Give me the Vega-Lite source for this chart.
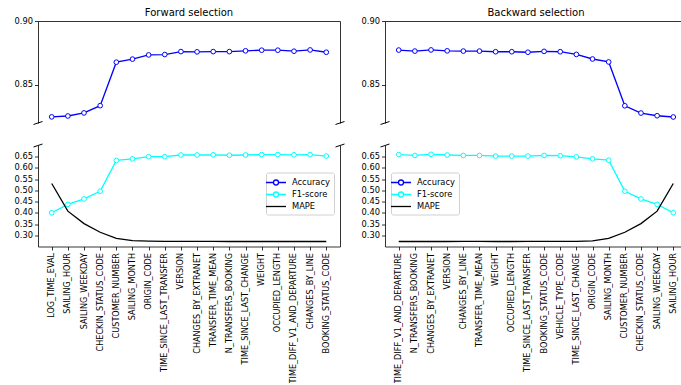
{
  "$schema": "https://vega.github.io/schema/vega-lite/v6.json",
  "background": "white",
  "padding": {"left": 14, "top": 8, "right": 0, "bottom": 0},
  "config": {
    "font": "DejaVu Sans",
    "view": {"stroke": null},
    "axis": {"labelFont": "DejaVu Sans", "labelFontSize": 8.3, "labelColor": "#000", "domainColor": "#000", "tickColor": "#000", "tickSize": 3.5, "labelPadding": 2, "grid": false, "title": null, "domainWidth": 0.8, "tickWidth": 0.8},
    "title": {"font": "DejaVu Sans", "fontSize": 10, "fontWeight": "normal", "color": "#000", "offset": -2},
    "legend": {"labelFont": "DejaVu Sans", "labelFontSize": 8.3, "labelColor": "#000"}
  },
  "datasets": {
    "fwd": [
      {"feature": "LOG_TIME_EVAL", "order": 1, "Accuracy": 0.8248, "F1-score": 0.401, "MAPE": 0.530},
      {"feature": "SAILING_HOUR", "order": 2, "Accuracy": 0.8255, "F1-score": 0.438, "MAPE": 0.408},
      {"feature": "SAILING_WEEKDAY", "order": 3, "Accuracy": 0.8279, "F1-score": 0.462, "MAPE": 0.353},
      {"feature": "CHECKIN_STATUS_CODE", "order": 4, "Accuracy": 0.8336, "F1-score": 0.496, "MAPE": 0.315},
      {"feature": "CUSTOMER_NUMBER", "order": 5, "Accuracy": 0.8677, "F1-score": 0.632, "MAPE": 0.288},
      {"feature": "SAILING_MONTH", "order": 6, "Accuracy": 0.8701, "F1-score": 0.639, "MAPE": 0.278},
      {"feature": "ORIGIN_CODE", "order": 7, "Accuracy": 0.8734, "F1-score": 0.6485, "MAPE": 0.276},
      {"feature": "TIME_SINCE_LAST_TRANSFER", "order": 8, "Accuracy": 0.8737, "F1-score": 0.6485, "MAPE": 0.275},
      {"feature": "VERSION", "order": 9, "Accuracy": 0.8760, "F1-score": 0.656, "MAPE": 0.275},
      {"feature": "CHANGES_BY_EXTRANET", "order": 10, "Accuracy": 0.8758, "F1-score": 0.656, "MAPE": 0.275},
      {"feature": "TRANSFER_TIME_MEAN", "order": 11, "Accuracy": 0.8760, "F1-score": 0.657, "MAPE": 0.275},
      {"feature": "N_TRANSFERS_BOOKING", "order": 12, "Accuracy": 0.8760, "F1-score": 0.655, "MAPE": 0.274},
      {"feature": "TIME_SINCE_LAST_CHANGE", "order": 13, "Accuracy": 0.8766, "F1-score": 0.656, "MAPE": 0.274},
      {"feature": "WEIGHT", "order": 14, "Accuracy": 0.8771, "F1-score": 0.658, "MAPE": 0.274},
      {"feature": "OCCUPIED_LENGTH", "order": 15, "Accuracy": 0.8771, "F1-score": 0.658, "MAPE": 0.274},
      {"feature": "TIME_DIFF_V1_AND_DEPARTURE", "order": 16, "Accuracy": 0.8763, "F1-score": 0.657, "MAPE": 0.274},
      {"feature": "CHANGES_BY_LINE", "order": 17, "Accuracy": 0.8773, "F1-score": 0.658, "MAPE": 0.274},
      {"feature": "BOOKING_STATUS_CODE", "order": 18, "Accuracy": 0.8755, "F1-score": 0.6515, "MAPE": 0.274}
    ],
    "bwd": [
      {"feature": "TIME_DIFF_V1_AND_DEPARTURE", "order": 1, "Accuracy": 0.8772, "F1-score": 0.658, "MAPE": 0.274},
      {"feature": "N_TRANSFERS_BOOKING", "order": 2, "Accuracy": 0.8764, "F1-score": 0.654, "MAPE": 0.274},
      {"feature": "CHANGES_BY_EXTRANET", "order": 3, "Accuracy": 0.8773, "F1-score": 0.659, "MAPE": 0.274},
      {"feature": "VERSION", "order": 4, "Accuracy": 0.8766, "F1-score": 0.656, "MAPE": 0.274},
      {"feature": "CHANGES_BY_LINE", "order": 5, "Accuracy": 0.8764, "F1-score": 0.654, "MAPE": 0.275},
      {"feature": "TRANSFER_TIME_MEAN", "order": 6, "Accuracy": 0.8764, "F1-score": 0.654, "MAPE": 0.275},
      {"feature": "WEIGHT", "order": 7, "Accuracy": 0.8759, "F1-score": 0.6515, "MAPE": 0.274},
      {"feature": "OCCUPIED_LENGTH", "order": 8, "Accuracy": 0.8759, "F1-score": 0.6515, "MAPE": 0.274},
      {"feature": "TIME_SINCE_LAST_TRANSFER", "order": 9, "Accuracy": 0.8755, "F1-score": 0.6515, "MAPE": 0.275},
      {"feature": "BOOKING_STATUS_CODE", "order": 10, "Accuracy": 0.8762, "F1-score": 0.654, "MAPE": 0.275},
      {"feature": "VEHICLE_TYPE_CODE", "order": 11, "Accuracy": 0.8759, "F1-score": 0.653, "MAPE": 0.275},
      {"feature": "TIME_SINCE_LAST_CHANGE", "order": 12, "Accuracy": 0.8738, "F1-score": 0.648, "MAPE": 0.275},
      {"feature": "ORIGIN_CODE", "order": 13, "Accuracy": 0.8702, "F1-score": 0.639, "MAPE": 0.277},
      {"feature": "SAILING_MONTH", "order": 14, "Accuracy": 0.8679, "F1-score": 0.633, "MAPE": 0.288},
      {"feature": "CUSTOMER_NUMBER", "order": 15, "Accuracy": 0.8335, "F1-score": 0.496, "MAPE": 0.315},
      {"feature": "CHECKIN_STATUS_CODE", "order": 16, "Accuracy": 0.8278, "F1-score": 0.462, "MAPE": 0.353},
      {"feature": "SAILING_WEEKDAY", "order": 17, "Accuracy": 0.8257, "F1-score": 0.438, "MAPE": 0.408},
      {"feature": "SAILING_HOUR", "order": 18, "Accuracy": 0.8247, "F1-score": 0.401, "MAPE": 0.530}
    ]
  },
  "spacing": 14,
  "resolve": {"scale": {"x": "independent", "y": "independent", "color": "independent"}, "legend": {"color": "independent"}},
  "hconcat": [
    {
      "spacing": 14.5,
      "resolve": {"scale": {"x": "independent", "y": "independent", "color": "independent"}, "legend": {"color": "independent"}},
      "vconcat": [
        {
          "title": "Forward selection",
          "width": 302, "height": 102,
          "layer": [
            {"data": {"name": "fwd"},
             "mark": {"type": "line", "color": "#0000ff", "strokeWidth": 1.3},
             "encoding": {
               "x": {"field": "feature", "type": "nominal", "sort": {"field": "order", "op": "min"}, "scale": {"type": "point", "padding": 0.85}, "axis": {"orient": "top", "labels": false, "ticks": false, "minExtent": 0, "maxExtent": 0}},
               "y": {"field": "Accuracy", "type": "quantitative", "scale": {"domain": [0.82, 0.9], "nice": false, "zero": false}, "axis": {"values": [0.85, 0.9], "format": ".2f"}}
             }},
            {"data": {"name": "fwd"},
             "mark": {"type": "point", "shape": "circle", "filled": true, "fill": "white", "stroke": "#0000ff", "strokeWidth": 1, "size": 22, "opacity": 1},
             "encoding": {
               "x": {"field": "feature", "type": "nominal", "sort": {"field": "order", "op": "min"}, "scale": {"type": "point", "padding": 0.85}, "axis": null},
               "y": {"field": "Accuracy", "type": "quantitative", "scale": {"domain": [0.82, 0.9], "nice": false, "zero": false}, "axis": {"orient": "right", "labels": false, "ticks": false, "minExtent": 0, "maxExtent": 0}}
             }},
            {"data": {"values": [{"bx": 0}, {"bx": 1}]},
             "mark": {"type": "point", "shape": "M-1,0.33L1,-0.33", "filled": false, "stroke": "#000", "strokeWidth": 1, "size": 81, "opacity": 1},
             "encoding": {
               "x": {"field": "bx", "type": "quantitative", "scale": {"domain": [0, 1], "nice": false, "zero": false}, "axis": null},
               "y": {"datum": 0.82, "type": "quantitative", "axis": null}
             }}
          ],
          "resolve": {"scale": {"x": "independent"}, "axis": {"x": "independent", "y": "independent"}}
        },
        {
          "width": 302, "height": 101,
          "layer": [
            {"data": {"name": "fwd"},
             "transform": [{"fold": ["F1-score", "MAPE"], "as": ["metric", "value"]}],
             "mark": {"type": "line", "strokeWidth": 1.3},
             "encoding": {
               "x": {"field": "feature", "type": "nominal", "sort": {"field": "order", "op": "min"}, "scale": {"type": "point", "padding": 0.85}, "axis": {"labelAngle": -90, "labelOverlap": false, "labelPadding": 2.5, "labelFontSize": 8.15}},
               "y": {"field": "value", "type": "quantitative", "scale": {"domain": [0.252, 0.698], "nice": false, "zero": false}, "axis": {"values": [0.3, 0.35, 0.4, 0.45, 0.5, 0.55, 0.6, 0.65], "format": ".2f"}},
               "color": {"field": "metric", "type": "nominal",
                 "scale": {"domain": ["Accuracy", "F1-score", "MAPE"], "range": ["#0000ff", "#00ffff", "#000000"]},
                 "legend": {"title": null, "orient": "none", "legendX": 228, "legendY": 27, "symbolSize": 100, "symbolStrokeWidth": 1.3, "symbolFillColor": "white", "labelOffset": 10, "rowPadding": 0, "padding": 4, "strokeColor": "#d0d0d0", "fillColor": "white", "cornerRadius": 2,
                   "encode": {"symbols": {"update": {"shape": {"signal": "datum.value === 'MAPE' ? 'M-2,0H2' : 'M-2,0H-0.5M0.5,0H2M-0.5,0A0.5,0.5,0,1,0,0.5,0A0.5,0.5,0,1,0,-0.5,0'"}, "fill": {"value": "white"}}}}}
               }
             }},
            {"data": {"name": "fwd"},
             "mark": {"type": "point", "shape": "circle", "filled": true, "fill": "white", "stroke": "#00ffff", "strokeWidth": 1, "size": 22, "opacity": 1},
             "encoding": {
               "x": {"field": "feature", "type": "nominal", "sort": {"field": "order", "op": "min"}, "scale": {"type": "point", "padding": 0.85}, "axis": null},
               "y": {"field": "F1-score", "type": "quantitative", "scale": {"domain": [0.252, 0.698], "nice": false, "zero": false}, "axis": {"orient": "right", "labels": false, "ticks": false, "minExtent": 0, "maxExtent": 0}}
             }},
            {"data": {"values": [{"bx": 0}, {"bx": 1}]},
             "mark": {"type": "point", "shape": "M-1,0.33L1,-0.33", "filled": false, "stroke": "#000", "strokeWidth": 1, "size": 81, "opacity": 1},
             "encoding": {
               "x": {"field": "bx", "type": "quantitative", "scale": {"domain": [0, 1], "nice": false, "zero": false}, "axis": null},
               "y": {"datum": 0.698, "type": "quantitative", "axis": null}
             }}
          ],
          "resolve": {"scale": {"x": "independent"}, "axis": {"x": "independent", "y": "independent"}}
        }
      ]
    },
    {
      "spacing": 14.5,
      "resolve": {"scale": {"x": "independent", "y": "independent", "color": "independent"}, "legend": {"color": "independent"}},
      "vconcat": [
        {
          "title": "Backward selection",
          "width": 302, "height": 102,
          "layer": [
            {"data": {"name": "bwd"},
             "mark": {"type": "line", "color": "#0000ff", "strokeWidth": 1.3},
             "encoding": {
               "x": {"field": "feature", "type": "nominal", "sort": {"field": "order", "op": "min"}, "scale": {"type": "point", "padding": 0.85}, "axis": {"orient": "top", "labels": false, "ticks": false, "minExtent": 0, "maxExtent": 0}},
               "y": {"field": "Accuracy", "type": "quantitative", "scale": {"domain": [0.82, 0.9], "nice": false, "zero": false}, "axis": {"values": [0.85, 0.9], "format": ".2f"}}
             }},
            {"data": {"name": "bwd"},
             "mark": {"type": "point", "shape": "circle", "filled": true, "fill": "white", "stroke": "#0000ff", "strokeWidth": 1, "size": 22, "opacity": 1},
             "encoding": {
               "x": {"field": "feature", "type": "nominal", "sort": {"field": "order", "op": "min"}, "scale": {"type": "point", "padding": 0.85}, "axis": null},
               "y": {"field": "Accuracy", "type": "quantitative", "scale": {"domain": [0.82, 0.9], "nice": false, "zero": false}, "axis": {"orient": "right", "labels": false, "ticks": false, "minExtent": 0, "maxExtent": 0}}
             }},
            {"data": {"values": [{"bx": 0}, {"bx": 1}]},
             "mark": {"type": "point", "shape": "M-1,0.33L1,-0.33", "filled": false, "stroke": "#000", "strokeWidth": 1, "size": 81, "opacity": 1},
             "encoding": {
               "x": {"field": "bx", "type": "quantitative", "scale": {"domain": [0, 1], "nice": false, "zero": false}, "axis": null},
               "y": {"datum": 0.82, "type": "quantitative", "axis": null}
             }}
          ],
          "resolve": {"scale": {"x": "independent"}, "axis": {"x": "independent", "y": "independent"}}
        },
        {
          "width": 302, "height": 101,
          "layer": [
            {"data": {"name": "bwd"},
             "transform": [{"fold": ["F1-score", "MAPE"], "as": ["metric", "value"]}],
             "mark": {"type": "line", "strokeWidth": 1.3},
             "encoding": {
               "x": {"field": "feature", "type": "nominal", "sort": {"field": "order", "op": "min"}, "scale": {"type": "point", "padding": 0.85}, "axis": {"labelAngle": -90, "labelOverlap": false, "labelPadding": 2.5, "labelFontSize": 8.15}},
               "y": {"field": "value", "type": "quantitative", "scale": {"domain": [0.252, 0.698], "nice": false, "zero": false}, "axis": {"values": [0.3, 0.35, 0.4, 0.45, 0.5, 0.55, 0.6, 0.65], "format": ".2f"}},
               "color": {"field": "metric", "type": "nominal",
                 "scale": {"domain": ["Accuracy", "F1-score", "MAPE"], "range": ["#0000ff", "#00ffff", "#000000"]},
                 "legend": {"title": null, "orient": "none", "legendX": 6, "legendY": 27, "symbolSize": 100, "symbolStrokeWidth": 1.3, "symbolFillColor": "white", "labelOffset": 10, "rowPadding": 0, "padding": 4, "strokeColor": "#d0d0d0", "fillColor": "white", "cornerRadius": 2,
                   "encode": {"symbols": {"update": {"shape": {"signal": "datum.value === 'MAPE' ? 'M-2,0H2' : 'M-2,0H-0.5M0.5,0H2M-0.5,0A0.5,0.5,0,1,0,0.5,0A0.5,0.5,0,1,0,-0.5,0'"}, "fill": {"value": "white"}}}}}
               }
             }},
            {"data": {"name": "bwd"},
             "mark": {"type": "point", "shape": "circle", "filled": true, "fill": "white", "stroke": "#00ffff", "strokeWidth": 1, "size": 22, "opacity": 1},
             "encoding": {
               "x": {"field": "feature", "type": "nominal", "sort": {"field": "order", "op": "min"}, "scale": {"type": "point", "padding": 0.85}, "axis": null},
               "y": {"field": "F1-score", "type": "quantitative", "scale": {"domain": [0.252, 0.698], "nice": false, "zero": false}, "axis": {"orient": "right", "labels": false, "ticks": false, "minExtent": 0, "maxExtent": 0}}
             }},
            {"data": {"values": [{"bx": 0}, {"bx": 1}]},
             "mark": {"type": "point", "shape": "M-1,0.33L1,-0.33", "filled": false, "stroke": "#000", "strokeWidth": 1, "size": 81, "opacity": 1},
             "encoding": {
               "x": {"field": "bx", "type": "quantitative", "scale": {"domain": [0, 1], "nice": false, "zero": false}, "axis": null},
               "y": {"datum": 0.698, "type": "quantitative", "axis": null}
             }}
          ],
          "resolve": {"scale": {"x": "independent"}, "axis": {"x": "independent", "y": "independent"}}
        }
      ]
    }
  ]
}
